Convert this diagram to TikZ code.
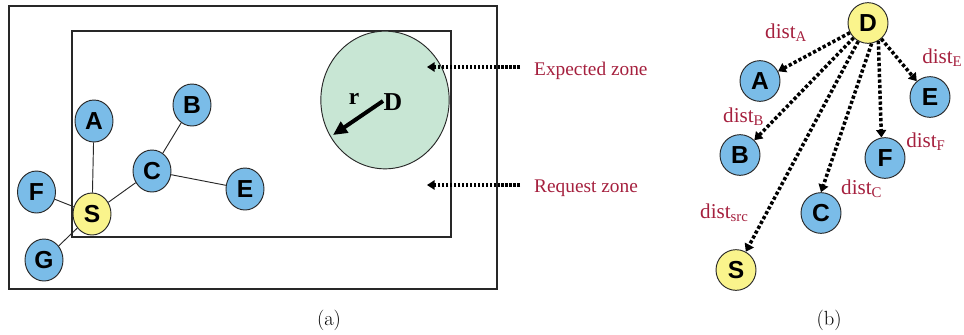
\documentclass[tikz,border=0pt]{standalone}
\usepackage{fontspec}
\newfontfamily\tnr{Liberation Serif}
\newfontfamily\hel{Liberation Sans}
\usetikzlibrary{arrows.meta,shapes.geometric}
\definecolor{nodeblue}{RGB}{122,188,232}
\definecolor{nodeyellow}{RGB}{250,244,140}
\definecolor{zonegreen}{RGB}{200,230,212}
\definecolor{labred}{RGB}{165,32,62}
\definecolor{edgegray}{RGB}{40,40,40}
\begin{document}
\begin{tikzpicture}[x=0.03cm,y=-0.03cm,
  nd/.style={ellipse,draw=edgegray,line width=0.8pt,inner sep=0pt,
    font=\hel\bfseries\fontsize{21}{22}\selectfont},
  lnd/.style={nd,minimum width=1.14cm,minimum height=1.26cm},
  rnd/.style={nd,minimum width=1.2cm,minimum height=1.22cm},
  bl/.style={fill=nodeblue},
  yl/.style={fill=nodeyellow},
  link/.style={draw=edgegray,line width=0.8pt},
  darr/.style={line width=3pt,dash pattern=on 2.8pt off 1.9pt,
    -{Triangle[length=6.5pt,width=8.5pt]}},
  zarr/.style={line width=2.6pt,dash pattern=on 2.2pt off 1.2pt,
    -{Triangle[length=6.5pt,width=8pt]}},
  lab/.style={text=labred,font=\tnr\fontsize{18}{19}\selectfont,inner sep=0pt},
  zlab/.style={lab,font=\tnr\fontsize{16.5}{18}\selectfont},
  frame/.style={draw=edgegray,line width=0.9pt}
]
\useasboundingbox (0,0) rectangle (964,334);
% panel (a)
\draw[frame] (9,6) rectangle (497,289);
\draw[frame] (72,31) rectangle (451,237);
\node[ellipse,draw=edgegray,line width=0.8pt,fill=zonegreen,minimum width=3.85cm,minimum height=4.13cm,inner sep=0pt] (zone) at (385,100) {};
\node[font=\tnr\bfseries\fontsize{22}{22}\selectfont,inner sep=0pt] (dz) at (393,102) {D};
\node[font=\tnr\bfseries\fontsize{20}{22}\selectfont,inner sep=0pt] (rz) at (354,99) {r};
\coordinate (rs) at (383,101);
\coordinate (re) at (333,135);
\draw[line width=3.4pt,-{Triangle[length=12pt,width=11pt]}] (rs) -- (re);

\node[lnd,bl] (A) at (94,121) {A};
\node[lnd,bl] (B) at (192,105) {B};
\node[lnd,bl] (C) at (152,171) {C};
\node[lnd,bl] (E) at (245,189) {E};
\node[lnd,bl] (F) at (36.5,192) {F};
\node[lnd,yl] (S) at (92,214) {S};
\node[lnd,bl] (G) at (44,260) {G};
\draw[link] (A) -- (S);
\draw[link] (S) -- (C);
\draw[link] (C) -- (B);
\draw[link] (C) -- (E);
\draw[link] (F) -- (S);
\draw[link] (S) -- (G);

\node[zlab,anchor=base west] (ez) at (534,75) {Expected zone};
\node[zlab,anchor=base west] (rqz) at (534,192) {Request zone};
\coordinate (ea) at (520,67);
\coordinate (eb) at (427,67);
\coordinate (ra) at (520,185);
\coordinate (rb) at (427,185);
\draw[zarr] (ea) -- (eb);
\draw[zarr] (ra) -- (rb);

\node (capa) at (329,320) {\fontsize{17.5}{18}\selectfont (a)};

% panel (b)
\node[rnd,yl] (bD) at (868,23) {D};
\node[rnd,bl] (bA) at (760,81) {A};
\node[rnd,bl] (bE) at (930,97) {E};
\node[rnd,bl] (bB) at (740,155) {B};
\node[rnd,bl] (bF) at (885,158) {F};
\node[rnd,bl] (bC) at (821,213) {C};
\node[rnd,yl] (bS) at (736,270) {S};
\draw[darr] (bD) -- (bA);
\draw[darr] (bD) -- (bB);
\draw[darr] (bD) -- (bS);
\draw[darr] (bD.-80) -- (bC.north);
\draw[darr] (bD.-60) -- (bF.100);
\draw[darr] (bD) -- (bE);

\node[lab,anchor=base west] (dA) at (765,38) {dist\textsubscript{A}};
\node[lab,anchor=base west] (dE) at (922,63) {dist\textsubscript{E}};
\node[lab,anchor=base west] (dB) at (723,122) {dist\textsubscript{B}};
\node[lab,anchor=base west] (dF) at (906,147) {dist\textsubscript{F}};
\node[lab,anchor=base west] (dC) at (841,194) {dist\textsubscript{C}};
\node[lab,anchor=base west] (dS) at (700,218) {dist\textsubscript{src}};

\node (capb) at (829,320) {\fontsize{17.5}{18}\selectfont (b)};
\end{tikzpicture}
\end{document}
